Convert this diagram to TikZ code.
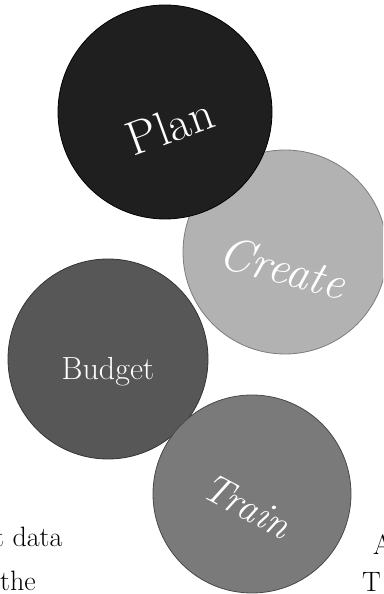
\documentclass[tikz,border=0pt]{standalone}
\usepackage{fontspec}
\definecolor{plancol}{gray}{0.12}
\definecolor{createcol}{gray}{0.70}
\definecolor{budgetcol}{gray}{0.34}
\definecolor{traincol}{gray}{0.48}
\tikzset{
  disc/.style={circle, inner sep=0pt, line width=0.8pt},
  disclabel/.style={inner sep=0pt, text=white},
  bodytext/.style={inner sep=0pt, text=black, font=\fontsize{28}{28}\selectfont},
}
\begin{document}
\begin{tikzpicture}[x=1pt,y=1pt]
\useasboundingbox (0,0) rectangle (383,594);
\clip (0,0) rectangle (383,594);
\node[disc, fill=createcol, draw=createcol!70!black, minimum size=204pt] (create) at (285,342) {};
\node[disc, fill=plancol, draw=black, minimum size=214pt] (plan) at (165,482) {};
\node[disc, fill=budgetcol, draw=budgetcol!60!black, minimum size=200pt] (budget) at (108,235) {};
\node[disc, fill=traincol, draw=traincol!60!black, minimum size=198pt] (train) at (252,100) {};
\node[disclabel, rotate=20, font=\fontsize{48}{48}\selectfont] (planlabel) at (170,468) {Plan};
\node[disclabel, rotate=-15, font=\itshape\fontsize{47}{47}\selectfont] (createlabel) at (283,326) {Create};
\node[disclabel, font=\fontsize{32}{32}\selectfont] (budgetlabel) at (108,222) {Budget};
\node[disclabel, rotate=-28, font=\itshape\fontsize{40}{40}\selectfont] (trainlabel) at (247,88) {Train};
\node[bodytext, anchor=base west] (l1) at (-6,47) {t data};
\node[bodytext, anchor=base west] (l2) at (0,4) {the};
\node[bodytext, anchor=base west] (r1) at (373,39) {A};
\node[bodytext, anchor=base west] (r2) at (362,2) {T};
\end{tikzpicture}
\end{document}
